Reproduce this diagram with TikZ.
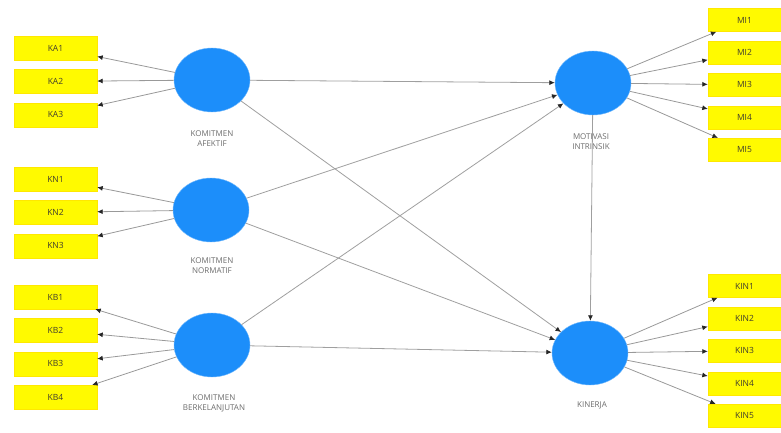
\documentclass[tikz,border=0pt]{standalone}
\usepackage{fontspec}
\setmainfont{Open Sans}
\usetikzlibrary{arrows.meta, positioning, shapes.geometric}
\definecolor{lvblue}{RGB}{28,142,250}
\definecolor{mvyellow}{RGB}{255,250,0}

\begin{document}
\begin{tikzpicture}[
            x=1pt, y=1pt,
            latent/.style={ellipse, fill=lvblue, draw=lvblue!60, minimum width=76pt, minimum height=64pt},
            indicator/.style={rectangle, fill=mvyellow, draw=mvyellow!85!orange, minimum width=83pt, minimum height=24pt, font=\fontsize{8.5}{10}\selectfont, text=black!70!olive},
            rindicator/.style={indicator, minimum width=73pt, minimum height=23pt},
            loading/.style={draw=gray!80, line width=0.8pt, -{Latex[length=5.5pt, width=5pt, color=black!85]}},
            relation/.style={draw=gray!75, line width=0.8pt, -{Latex[length=5.5pt, width=5pt, color=black!85]}},
            caption/.style={font=\fontsize{8}{10}\selectfont, text=gray!85!black, align=center},
            node distance=9pt
        ]
            \useasboundingbox (0,0) rectangle (781,432);

            % Latent variables
            \node[latent] (ka) at (212,352) {};
            \node[latent] (kn) at (211,222) {};
            \node[latent] (kb) at (212,87) {};
            \node[latent] (mi) at (593,349) {};
            \node[latent] (kin) at (590,79) {};

            % Latent labels
            \node[caption] at (212,293) {KOMITMEN\\AFEKTIF};
            \node[caption] at (212,166) {KOMITMEN\\NORMATIF};
            \node[caption] at (214,29) {KOMITMEN\\BERKELANJUTAN};
            \node[caption] at (591,290) {MOTIVASI\\INTRINSIK};
            \node[caption] at (592,27) {KINERJA};

            % Indicators komitmen afektif
            \node[indicator] (ka1) at (55.5,384) {KA1};
            \node[indicator, below=of ka1] (ka2) {KA2};
            \node[indicator, below=of ka2] (ka3) {KA3};

            % Indicators komitmen normatif
            \node[indicator] (kn1) at (55.5,253) {KN1};
            \node[indicator, below=of kn1] (kn2) {KN2};
            \node[indicator, below=of kn2] (kn3) {KN3};

            % Indicators komitmen berkelanjutan
            \node[indicator] (kb1) at (55.5,135) {KB1};
            \node[indicator, below=of kb1] (kb2) {KB2};
            \node[indicator, below=of kb2] (kb3) {KB3};
            \node[indicator, below=of kb3] (kb4) {KB4};

            % Indicators motivasi intrinsik
            \node[rindicator] (mi1) at (744.5,412) {MI1};
            \node[rindicator, below=of mi1] (mi2) {MI2};
            \node[rindicator, below=of mi2] (mi3) {MI3};
            \node[rindicator, below=of mi3] (mi4) {MI4};
            \node[rindicator, below=of mi4] (mi5) {MI5};

            % Indicators kinerja
            \node[rindicator] (kin1) at (744.5,146) {KIN1};
            \node[rindicator, below=of kin1] (kin2) {KIN2};
            \node[rindicator, below=of kin2] (kin3) {KIN3};
            \node[rindicator, below=of kin3] (kin4) {KIN4};
            \node[rindicator, below=of kin4] (kin5) {KIN5};

            % Outer loadings
            \foreach \i in {1,2,3} {
                \draw[loading] (ka) -- (ka\i);
                \draw[loading] (kn) -- (kn\i);
            }
            \foreach \i in {1,...,4}
                \draw[loading] (kb) -- (kb\i);
            \foreach \i in {1,...,5} {
                \draw[loading] (mi) -- (mi\i);
                \draw[loading] (kin) -- (kin\i);
            }

            % Inner paths
            \draw[relation] (ka) -- (mi);
            \draw[relation] (ka) -- (kin);
            \draw[relation] (kn) -- (mi);
            \draw[relation] (kn) -- (kin);
            \draw[relation] (kb) -- (mi);
            \draw[relation] (kb) -- (kin);
            \draw[relation] (mi) -- (kin);

        \end{tikzpicture}
\end{document}
